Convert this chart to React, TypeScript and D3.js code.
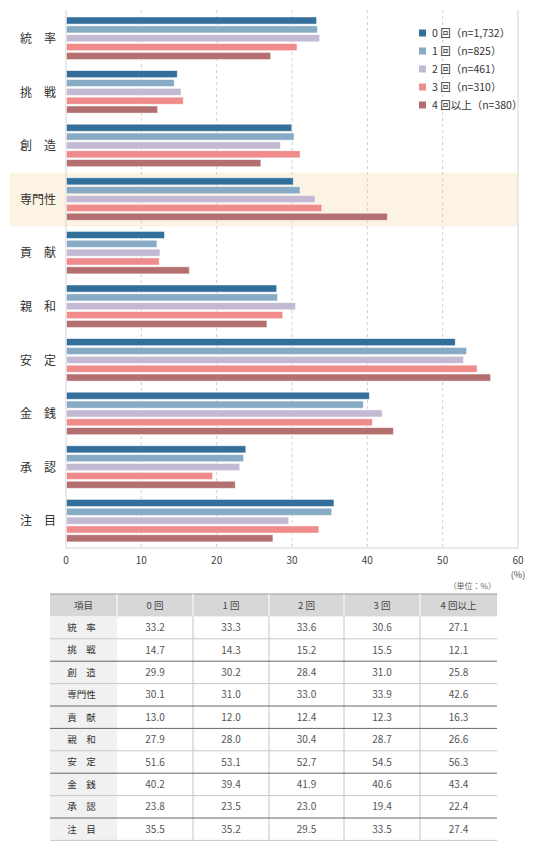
import * as d3 from "d3";
import React, { useEffect, useRef } from "react";

const categories = ["統率", "挑戦", "創造", "専門性", "貢献", "親和", "安定", "金銭", "承認", "注目"];
const series = ["0回", "1回", "2回", "3回", "4回以上"];
const legendLabels = ["0 回（n=1,732）", "1 回（n=825）", "2 回（n=461）", "3 回（n=310）", "4 回以上（n=380）"];
const tableHeader = ["項目", "0 回", "1 回", "2 回", "3 回", "4 回以上"];
const xTicks = [0, 10, 20, 30, 40, 50, 60];
const highlighted = "専門性";

const values0 = [33.2, 14.7, 29.9, 30.1, 13.0, 27.9, 51.6, 40.2, 23.8, 35.5];
const values1 = [33.3, 14.3, 30.2, 31.0, 12.0, 28.0, 53.1, 39.4, 23.5, 35.2];
const values2 = [33.6, 15.2, 28.4, 33.0, 12.4, 30.4, 52.7, 41.9, 23.0, 29.5];
const values3 = [30.6, 15.5, 31.0, 33.9, 12.3, 28.7, 54.5, 40.6, 19.4, 33.5];
const values4 = [27.1, 12.1, 25.8, 42.6, 16.3, 26.6, 56.3, 43.4, 22.4, 27.4];
const allValues = [values0, values1, values2, values3, values4];

const colors = ["#336f9a", "#88abc5", "#c3b9d3", "#ef8b8a", "#b46f70"];
const font = "'Noto Sans CJK JP', 'Noto Sans', sans-serif";

// two-character names are spread out with a full-width space
const spaced = (s: string) => (s.length === 2 ? s[0] + "　" + s[1] : s);

export default function App() {
  const svgRef = useRef<SVGSVGElement>(null);

  useEffect(() => {
    document.body.style.margin = "0";
    if (!svgRef.current) return;
    const width = 552;
    const height = 855;
    const plotTop = 12;
    const plotBottom = 548;

    const x = d3.scaleLinear([0, 60], [66, 518]);
    const y = d3.scaleBand(categories, [plotTop, plotBottom]);
    const ySeries = d3.scaleBand(series, [5, 47.5]).paddingInner(0.2);

    const svg = d3
      .select(svgRef.current)
      .attr("width", width)
      .attr("height", height)
      .attr("viewBox", [0, 0, width, height])
      .style("font-family", font);

    // highlight band
    svg
      .append("rect")
      .attr("x", 10)
      .attr("y", y(highlighted)!)
      .attr("width", x(60) - 10)
      .attr("height", y.bandwidth())
      .attr("fill", "#fdf3e4");

    // grid
    svg
      .append("g")
      .selectAll("line")
      .data(xTicks)
      .join("line")
      .attr("x1", (d) => x(d))
      .attr("x2", (d) => x(d))
      .attr("y1", 10)
      .attr("y2", plotBottom)
      .attr("stroke", (d) => (d === 0 || d === 60 ? "#d4d4d4" : "#cfcfcf"))
      .attr("stroke-dasharray", (d) => (d === 0 || d === 60 ? null : "3,3"));

    svg
      .append("line")
      .attr("x1", x(0))
      .attr("x2", x(60))
      .attr("y1", plotBottom)
      .attr("y2", plotBottom)
      .attr("stroke", "#d4d4d4");

    // bars
    series.forEach((s, si) => {
      svg
        .append("g")
        .attr("fill", colors[si])
        .selectAll("rect")
        .data(allValues[si])
        .join("rect")
        .attr("x", x(0) + 0.5)
        .attr("y", (_, i) => y(categories[i])! + ySeries(s)!)
        .attr("width", (d) => x(d) - x(0))
        .attr("height", ySeries.bandwidth())
        .attr("stroke", "#fff")
        .attr("stroke-opacity", 0.6)
        .attr("stroke-width", 0.8);
    });

    // category labels
    svg
      .append("g")
      .selectAll("text")
      .data(categories)
      .join("text")
      .attr("x", 38)
      .attr("y", (d) => y(d)! + y.bandwidth() / 2)
      .attr("dy", "0.35em")
      .attr("text-anchor", "middle")
      .attr("font-size", 12)
      .attr("fill", "#333")
      .text((d) => spaced(d));

    // x tick labels
    svg
      .append("g")
      .selectAll("text")
      .data(xTicks)
      .join("text")
      .attr("x", (d) => x(d))
      .attr("y", 564)
      .attr("text-anchor", "middle")
      .attr("font-size", 10)
      .attr("fill", "#444")
      .text((d) => d);

    svg
      .append("text")
      .attr("x", x(60))
      .attr("y", 578)
      .attr("text-anchor", "middle")
      .attr("font-size", 9)
      .attr("fill", "#444")
      .text("(%)");

    svg
      .append("text")
      .attr("x", 496)
      .attr("y", 589)
      .attr("text-anchor", "end")
      .attr("font-size", 8)
      .attr("fill", "#666")
      .text("（単位：%）");

    // legend
    const legend = svg
      .append("g")
      .selectAll("g")
      .data(legendLabels)
      .join("g")
      .attr("transform", (_, i) => `translate(419,${33 + i * 18})`);
    legend
      .append("rect")
      .attr("y", -3.5)
      .attr("width", 7)
      .attr("height", 7)
      .attr("fill", (_, i) => colors[i]);
    legend
      .append("text")
      .attr("x", 13)
      .attr("dy", "0.35em")
      .attr("font-size", 10.5)
      .attr("fill", "#333")
      .text((d) => d);

    // table
    const colEdges = [50, 117, 193, 269, 344, 420, 497];
    const tableTop = 594;
    const rowH = 22.4;
    const table = svg.append("g");
    const darkAfter = new Set([1, 3, 4, 6, 8]);

    table
      .append("rect")
      .attr("x", colEdges[0])
      .attr("y", tableTop)
      .attr("width", colEdges[6] - colEdges[0])
      .attr("height", rowH)
      .attr("fill", "#d7d7d7");
    table
      .append("rect")
      .attr("x", colEdges[0])
      .attr("y", tableTop + rowH)
      .attr("width", colEdges[1] - colEdges[0])
      .attr("height", rowH * categories.length)
      .attr("fill", "#f1f1f1");

    table
      .append("line")
      .attr("x1", colEdges[0])
      .attr("x2", colEdges[6])
      .attr("y1", tableTop)
      .attr("y2", tableTop)
      .attr("stroke", "#999");

    // header dividers (white) and body dividers (grey)
    table
      .selectAll("line.hdiv")
      .data(colEdges.slice(1, 6))
      .join("line")
      .attr("class", "hdiv")
      .attr("x1", (d) => d)
      .attr("x2", (d) => d)
      .attr("y1", tableTop)
      .attr("y2", tableTop + rowH)
      .attr("stroke", "#fff");
    table
      .selectAll("line.bdiv")
      .data(colEdges.slice(2, 6))
      .join("line")
      .attr("class", "bdiv")
      .attr("x1", (d) => d)
      .attr("x2", (d) => d)
      .attr("y1", tableTop + rowH)
      .attr("y2", tableTop + rowH * (categories.length + 1))
      .attr("stroke", "#c4c4c4");

    table
      .selectAll("line.row")
      .data(d3.range(categories.length))
      .join("line")
      .attr("class", "row")
      .attr("x1", colEdges[0])
      .attr("x2", colEdges[6])
      .attr("y1", (i) => tableTop + rowH * (i + 2))
      .attr("y2", (i) => tableTop + rowH * (i + 2))
      .attr("stroke", (i) => (darkAfter.has(i) ? "#666" : "#c8c8c8"));

    const colCenter = (c: number) => (colEdges[c] + colEdges[c + 1]) / 2;

    table
      .selectAll("text.head")
      .data(tableHeader)
      .join("text")
      .attr("class", "head")
      .attr("x", (_, c) => colCenter(c))
      .attr("y", tableTop + rowH / 2)
      .attr("dy", "0.35em")
      .attr("text-anchor", "middle")
      .attr("font-size", 9.5)
      .attr("fill", "#444")
      .text((d) => d);

    categories.forEach((cat, r) => {
      const cy = tableTop + rowH * (r + 1) + rowH / 2;
      const cells = [spaced(cat), ...allValues.map((v) => v[r].toFixed(1))];
      table
        .append("g")
        .selectAll("text")
        .data(cells)
        .join("text")
        .attr("x", (_, c) => colCenter(c) - (c === 0 ? 2 : 0))
        .attr("y", cy)
        .attr("dy", "0.35em")
        .attr("text-anchor", "middle")
        .attr("font-size", (_, c) => (c === 0 ? 9.5 : 10))
        .attr("fill", (_, c) => (c === 0 ? "#333" : "#555"))
        .text((d) => d);
    });

    return () => {
      d3.select(svgRef.current).selectAll("*").remove();
    };
  }, [svgRef]);

  return <svg ref={svgRef} style={{ display: "block" }} />;
}
